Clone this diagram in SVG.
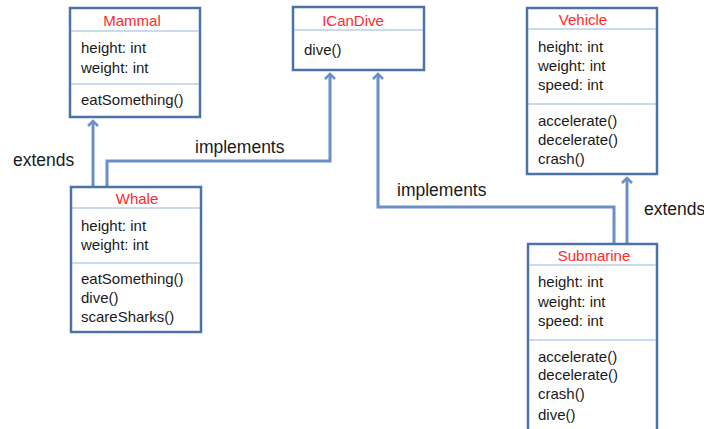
<svg xmlns="http://www.w3.org/2000/svg" width="704" height="429" viewBox="0 0 704 429">
<style>
.box{fill:#fff;stroke:#4d72a9;stroke-width:2.5}
.div{stroke:#95b5e0;stroke-width:1.2}
.t{font-family:"Liberation Sans",Arial,sans-serif;font-size:15px;fill:#1a1a1a}
.lbl{font-family:"Liberation Sans",Arial,sans-serif;font-size:17.5px;fill:#1a1a1a}
.title{font-family:"Liberation Sans",Arial,sans-serif;font-size:15px;fill:#ff2a2a;text-anchor:middle}
.conn{fill:none;stroke:#6b8fc6;stroke-width:3}
</style>
<defs>
<marker id="arr" markerWidth="12" markerHeight="12" viewBox="-6 -6 12 12" refX="0" refY="0" orient="auto" markerUnits="userSpaceOnUse">
<polyline points="-5,-5 0,0 -5,5" fill="none" stroke="#6b8fc6" stroke-width="2.6"/>
</marker>
</defs>
<rect width="704" height="429" fill="#fff"/>
<g id="connectors">
<line class="conn" x1="93" y1="187" x2="93" y2="121" marker-end="url(#arr)"/>
<polyline class="conn" points="107,187 107,161 330,161 330,74" marker-end="url(#arr)"/>
<polyline class="conn" points="614,244 614,207 378,207 378,74" marker-end="url(#arr)"/>
<line class="conn" x1="627" y1="244" x2="627" y2="178" marker-end="url(#arr)"/>
<text class="lbl" x="13" y="166">extends</text>
<text class="lbl" x="195" y="153">implements</text>
<text class="lbl" x="397" y="196">implements</text>
<text class="lbl" x="644" y="215">extends</text>
</g>
<g id="Mammal">
<rect class="box" x="70" y="8" width="130" height="109"/>
<line class="div" x1="71" y1="31" x2="199" y2="31"/>
<line class="div" x1="71" y1="84" x2="199" y2="84"/>
<text class="title" x="132" y="26">Mammal</text>
<text class="t" x="81" y="53">height: int</text>
<text class="t" x="81" y="73">weight: int</text>
<text class="t" x="81" y="105">eatSomething()</text>
</g>
<g id="ICanDive">
<rect class="box" x="293" y="7" width="131" height="63"/>
<line class="div" x1="294" y1="30" x2="423" y2="30"/>
<text class="title" x="353" y="26">ICanDive</text>
<text class="t" x="304" y="55">dive()</text>
</g>
<g id="Vehicle">
<rect class="box" x="527" y="8" width="130" height="166"/>
<line class="div" x1="528" y1="29" x2="656" y2="29"/>
<line class="div" x1="528" y1="104" x2="656" y2="104"/>
<text class="title" x="583" y="25">Vehicle</text>
<text class="t" x="538" y="52">height: int</text>
<text class="t" x="538" y="71">weight: int</text>
<text class="t" x="538" y="90">speed: int</text>
<text class="t" x="538" y="126">accelerate()</text>
<text class="t" x="538" y="145">decelerate()</text>
<text class="t" x="538" y="164">crash()</text>
</g>
<g id="Whale">
<rect class="box" x="71" y="187" width="130" height="145"/>
<line class="div" x1="72" y1="208" x2="200" y2="208"/>
<line class="div" x1="72" y1="263" x2="200" y2="263"/>
<text class="title" x="137" y="204">Whale</text>
<text class="t" x="81" y="231">height: int</text>
<text class="t" x="81" y="250">weight: int</text>
<text class="t" x="81" y="284">eatSomething()</text>
<text class="t" x="81" y="303">dive()</text>
<text class="t" x="81" y="322">scareSharks()</text>
</g>
<g id="Submarine">
<rect class="box" x="528" y="244" width="129" height="200"/>
<line class="div" x1="529" y1="265" x2="656" y2="265"/>
<line class="div" x1="529" y1="340" x2="656" y2="340"/>
<text class="title" x="594" y="261">Submarine</text>
<text class="t" x="538" y="287">height: int</text>
<text class="t" x="538" y="307">weight: int</text>
<text class="t" x="538" y="326">speed: int</text>
<text class="t" x="538" y="362">accelerate()</text>
<text class="t" x="538" y="380">decelerate()</text>
<text class="t" x="538" y="399">crash()</text>
<text class="t" x="538" y="420">dive()</text>
</g>
</svg>
